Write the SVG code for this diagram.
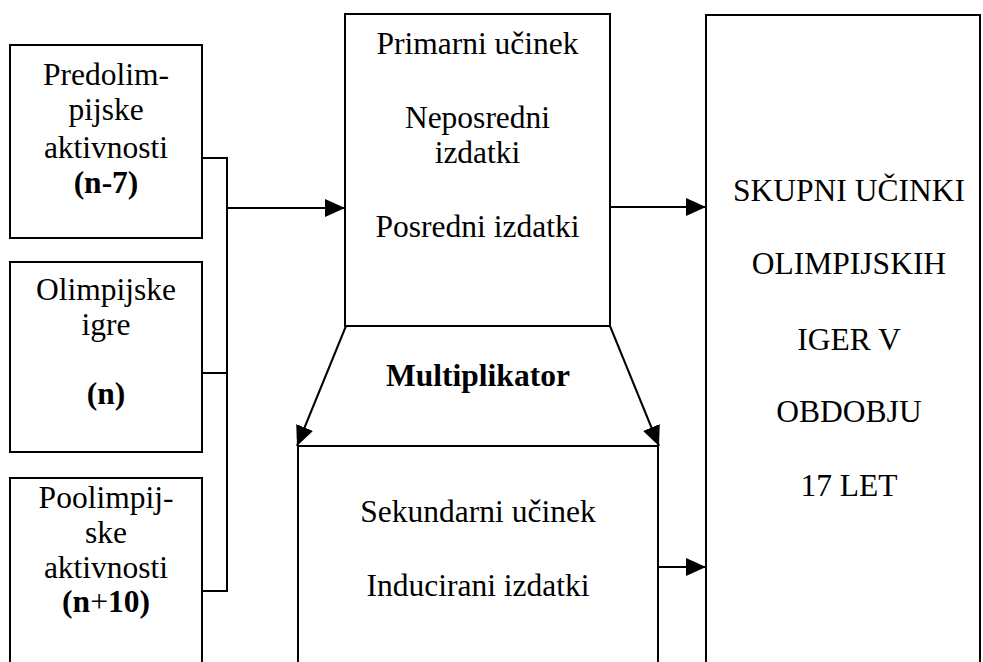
<svg xmlns="http://www.w3.org/2000/svg" width="983" height="662" viewBox="0 0 983 662">
<style>
.box{fill:#fff;stroke:#000;stroke-width:2}
.ln{fill:none;stroke:#000;stroke-width:2}
text{font-family:"Liberation Serif","Times New Roman",serif;font-size:31.5px;fill:#000;text-anchor:middle}
.b{font-weight:bold}
.n{font-weight:normal}
</style>
<defs>
<marker id="ah" markerUnits="userSpaceOnUse" markerWidth="20" markerHeight="18" refX="20" refY="9" orient="auto">
<path d="M0,0 L20,9 L0,18 Z" fill="#000"/>
</marker>
</defs>
<rect width="983" height="662" fill="#fff"/>
<g id="connectors">
<path class="ln" d="M202,158 H227 V591 H202"/>
<path class="ln" d="M202,373 H227"/>
<path class="ln" d="M227,208 H345" marker-end="url(#ah)"/>
<path class="ln" d="M610,207 H706" marker-end="url(#ah)"/>
<path class="ln" d="M658,567 H706" marker-end="url(#ah)"/>
<path class="ln" d="M346,326 L297,446" marker-end="url(#ah)"/>
<path class="ln" d="M610,326 L659,446" marker-end="url(#ah)"/>
</g>
<g id="predolimpijske">
<rect class="box" x="10" y="45" width="192" height="193"/>
<text x="106" y="85">Predolim-</text>
<text x="106" y="120">pijske</text>
<text x="106" y="158">aktivnosti</text>
<text x="106" y="193" class="b">(n-7)</text>
</g>
<g id="olimpijske">
<rect class="box" x="10" y="262" width="192" height="190"/>
<text x="106" y="300">Olimpijske</text>
<text x="106" y="335">igre</text>
<text x="106" y="404" class="b">(n)</text>
</g>
<g id="poolimpijske">
<rect class="box" x="10" y="478" width="192" height="200"/>
<text x="106" y="508">Poolimpij-</text>
<text x="106" y="543">ske</text>
<text x="106" y="578">aktivnosti</text>
<text x="106" y="612" class="b">(n<tspan class="n">+</tspan>10)</text>
</g>
<g id="primarni">
<rect class="box" x="345" y="14" width="265" height="312"/>
<text x="477.5" y="54">Primarni učinek</text>
<text x="477.5" y="128">Neposredni</text>
<text x="477.5" y="163">izdatki</text>
<text x="477.5" y="237">Posredni izdatki</text>
</g>
<g id="multiplikator">
<text x="478" y="386" class="b">Multiplikator</text>
</g>
<g id="sekundarni">
<rect class="box" x="298" y="446" width="360" height="230"/>
<text x="478" y="522">Sekundarni učinek</text>
<text x="478" y="596">Inducirani izdatki</text>
</g>
<g id="skupni">
<rect class="box" x="706" y="15" width="274" height="660"/>
<text x="849" y="201">SKUPNI UČINKI</text>
<text x="849" y="274">OLIMPIJSKIH</text>
<text x="849" y="350">IGER V</text>
<text x="849" y="422">OBDOBJU</text>
<text x="849" y="496">17 LET</text>
</g>
</svg>
